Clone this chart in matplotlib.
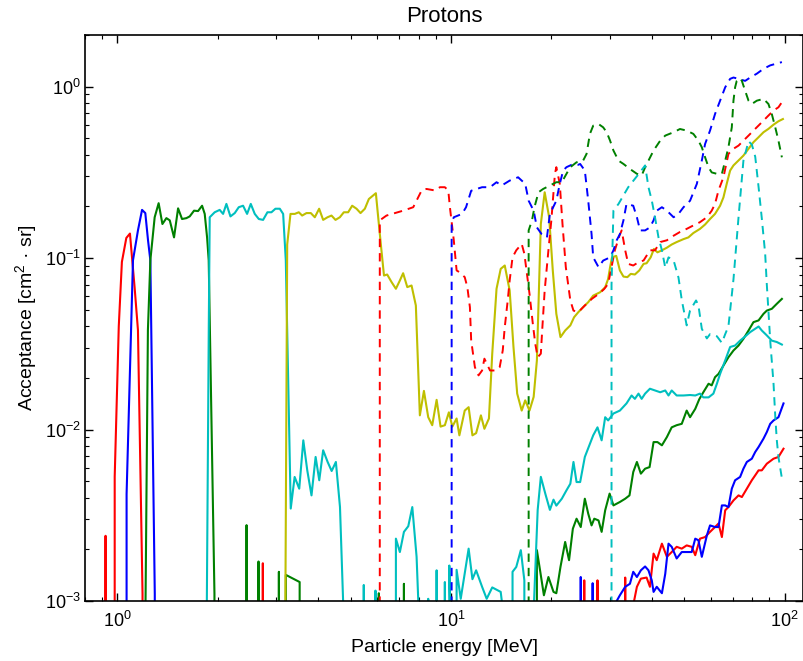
import matplotlib
matplotlib.use("Agg")
import matplotlib.pyplot as plt

plt.rcParams['font.family'] = ['Liberation Sans', 'DejaVu Sans']
plt.rcParams['mathtext.default'] = 'regular'
plt.rcParams['lines.scale_dashes'] = False

# energies [MeV] and acceptances [cm^2 sr]; 0 means nothing detected
e_r = [0.915, 0.922, 0.93, 0.975, 0.982, 1.01, 1.032, 1.064, 1.091, 1.127, 1.153, 1.19, 1.195,
       2.72, 2.73, 2.74, 25.0, 25.1, 25.2, 27.4, 27.5, 27.6, 32.5, 33.3, 34.0, 35.2, 35.4, 36.1,
       37.1, 38.6, 39.5, 40.5, 41.4, 42.9, 44.4, 45.9, 47.5, 49.2, 50.9, 52.7, 54.0, 55.8, 57.8,
       59.8, 61.9, 63.4, 64.9, 66.4, 67.9, 70.3, 72.8, 74.5, 77.1, 79.8, 81.7, 83.6, 85.5, 88.5,
       92.7, 95.9, 99.3]
a_r = [0, 0.0024, 0, 0, 0.0053, 0.04, 0.095, 0.131, 0.139, 0.067, 0.038, 0.0011, 0,
       0, 0.00166, 0, 0, 0.00132, 0, 0, 0.00132, 0, 0, 0.00137, 0, 0, 0.001, 0.00121,
       0.00135, 0.00137, 0.00121, 0.00189, 0.00173, 0.00216, 0.00181, 0.00193, 0.00207, 0.00202,
       0.00211, 0.00207, 0.00185, 0.00231, 0.00236, 0.00253, 0.0027, 0.00283, 0.00236, 0.00338,
       0.00353, 0.00386, 0.00413, 0.00404, 0.00452, 0.00506, 0.00541, 0.00578, 0.00578, 0.00632,
       0.00676, 0.00692, 0.00773]

e_b = [1.055, 1.066, 1.114, 1.153, 1.186, 1.213, 1.236, 1.256, 1.295, 1.30, 24.4, 24.5, 24.6,
       26.5, 26.6, 26.7, 31.3, 31.4, 32.1, 33.3, 34.4, 35.2, 36.1, 37.1, 38.2, 39.1, 40.0, 40.5,
       41.4, 42.9, 43.9, 44.9, 45.9, 47.5, 49.2, 50.9, 52.7, 54.0, 55.2, 56.5, 58.5, 59.8, 61.9,
       63.4, 64.9, 66.4, 67.9, 69.5, 71.1, 73.6, 75.3, 77.1, 79.8, 81.7, 83.6, 86.5, 88.5, 90.6,
       92.7, 95.9, 99.3]
a_b = [0, 0.0042, 0.097, 0.145, 0.191, 0.183, 0.127, 0.097, 0.0011, 0, 0, 0.00138, 0,
       0, 0.00127, 0, 0, 0.001, 0.00108, 0.00121, 0.00126, 0.00148, 0.00138, 0.00151, 0.00159,
       0.00151, 0.00132, 0.00113, 0.00121, 0.00111, 0.00144, 0.00216, 0.00207, 0.00177, 0.00193,
       0.00193, 0.00193, 0.00231, 0.00226, 0.00181, 0.00241, 0.00276, 0.0027, 0.0027, 0.00361,
       0.00361, 0.00353, 0.00452, 0.00506, 0.00529, 0.00591, 0.00647, 0.00676, 0.0074, 0.00791,
       0.00885, 0.00967, 0.0108, 0.0113, 0.0118, 0.0142]

e_g = [1.21, 1.215, 1.235, 1.256, 1.294, 1.33, 1.365, 1.403, 1.436, 1.479, 1.521, 1.563, 1.611,
       1.648, 1.698, 1.746, 1.795, 1.828, 1.858, 1.879, 1.955, 1.96,
       2.43, 2.44, 2.45, 2.64, 2.65, 2.66, 3.04, 3.05, 3.06, 3.19, 3.2, 3.52, 3.53,
       6.07, 6.08, 6.09, 7.22, 7.23, 7.24,
       17.9, 18.1, 18.5, 19.0, 19.6, 20.3, 20.7, 21.3, 22.0, 22.6, 23.2, 23.8, 24.5, 25.2, 25.8,
       26.4, 26.9, 27.7, 28.3, 29.0, 29.9, 30.7, 32.1, 33.3, 34.3, 35.2, 36.1, 37.1, 38.2, 39.4,
       40.5, 41.6, 42.9, 44.4, 45.9, 47.5, 49.2, 50.9, 52.1, 54.0, 55.5, 57.1, 59.2, 60.5, 61.9,
       63.4, 65.6, 67.9, 70.3, 72.8, 75.3, 78.0, 80.7, 83.6, 86.5, 88.5, 91.6, 94.8, 98.2]
a_g = [0, 0.001, 0.038, 0.097, 0.173, 0.209, 0.158, 0.171, 0.166, 0.132, 0.195, 0.169, 0.171,
       0.175, 0.189, 0.188, 0.202, 0.181, 0.132, 0.097, 0.0011, 0,
       0, 0.00277, 0, 0, 0.0017, 0, 0, 0.00148, 0, 0, 0.00142, 0.00129, 0,
       0, 0.00111, 0, 0, 0.00126, 0,
       0, 0.00198, 0.00151, 0.00108, 0.00138, 0.00113, 0.00111, 0.00158, 0.00221, 0.00173,
       0.00264, 0.00302, 0.0027, 0.00395, 0.00323, 0.00276, 0.00302, 0.00295, 0.00253, 0.00338,
       0.00423, 0.00361, 0.00378, 0.00395, 0.00413, 0.00565, 0.00647, 0.00553, 0.00591, 0.00604,
       0.00845, 0.00845, 0.00809, 0.00904, 0.0103, 0.0106, 0.0108, 0.0129, 0.0118, 0.0132, 0.015,
       0.0165, 0.0185, 0.0181, 0.0202, 0.0211, 0.0236, 0.0264, 0.0289, 0.0309, 0.0338, 0.0378,
       0.0423, 0.0433, 0.0473, 0.0494, 0.0506, 0.0541, 0.0578]

e_c = [1.85, 1.855, 1.88, 1.892, 1.958, 2.027, 2.075, 2.123, 2.183, 2.249, 2.312, 2.382, 2.449,
       2.512, 2.582, 2.655, 2.735, 2.818, 2.897, 2.978, 3.069, 3.141, 3.199, 3.31, 3.40, 3.51,
       3.61, 3.71, 3.82, 3.93, 4.03, 4.14, 4.27, 4.39, 4.52, 4.65, 4.76, 4.78,
       5.47, 5.48, 5.49, 5.93, 5.94, 5.95,
       6.80, 6.84, 7.03, 7.23, 7.45, 7.66, 7.89, 8.0, 8.04,
       8.54, 8.55, 8.56, 9.05, 9.06, 9.07, 9.58, 9.59, 9.6, 9.85, 9.89, 9.95, 9.96,
       10.35, 10.4, 10.7, 11.3, 11.6, 11.9, 12.4, 12.8, 13.3, 14.1, 14.3, 14.32,
       15.2, 15.3, 15.7, 16.2, 16.6, 16.9,
       17.7, 17.75, 18.2, 18.6, 19.2, 19.8, 20.3, 20.7, 21.5, 22.2, 22.8, 23.3, 23.8, 24.4, 25.2,
       26.1, 26.7, 27.5, 28.3, 29.0, 29.6, 30.7, 32.1, 33.6, 34.8, 35.6, 36.5, 37.3, 38.2, 39.5,
       40.9, 42.4, 43.9, 44.9, 45.9, 47.5, 49.8, 52.1, 54.0, 55.8, 57.1, 59.2, 61.2, 62.7, 64.1,
       66.4, 68.7, 71.1, 73.6, 76.2, 78.9, 81.7, 83.6, 85.5, 88.5, 91.6, 94.8, 98.2]
a_c = [0, 0.001, 0.04, 0.173, 0.185, 0.191, 0.181, 0.207, 0.175, 0.183, 0.198, 0.202, 0.181,
       0.207, 0.181, 0.169, 0.167, 0.185, 0.185, 0.194, 0.194, 0.181, 0.097, 0.00346, 0.00529,
       0.00452, 0.00865, 0.00578, 0.00413, 0.00692, 0.00506, 0.00757, 0.00647, 0.00573, 0.00647,
       0.00353, 0.0009, 0,
       0, 0.00124, 0, 0, 0.00115, 0,
       0, 0.00231, 0.00193, 0.00253, 0.00273, 0.00353, 0.00181, 0.0009, 0,
       0, 0.00103, 0, 0, 0.00151, 0, 0, 0.00129, 0, 0, 0.00161, 0.0009, 0,
       0, 0.00152, 0.00103, 0.00202, 0.00134, 0.00151, 0.00121, 0.00103, 0.0012, 0.00113, 0.0009, 0,
       0, 0.00148, 0.00158, 0.00198, 0.00132, 0,
       0, 0.001, 0.0034, 0.0053, 0.0042, 0.0034, 0.0039, 0.0036, 0.00395, 0.00442, 0.00483,
       0.00647, 0.00494, 0.00494, 0.00692, 0.00827, 0.00925, 0.0103, 0.00865, 0.0118, 0.0113,
       0.0124, 0.0129, 0.0142, 0.0158, 0.0151, 0.0162, 0.0151, 0.0162, 0.0173, 0.0169, 0.0165,
       0.0169, 0.0158, 0.0169, 0.0158, 0.0158, 0.0159, 0.0158, 0.0162, 0.0154, 0.0154, 0.0162,
       0.0185, 0.0211, 0.0253, 0.0303, 0.0309, 0.033, 0.0349, 0.037, 0.0387, 0.0399, 0.0378,
       0.0354, 0.033, 0.0324, 0.0313]

e_y = [3.18, 3.19, 3.23, 3.304, 3.404, 3.499, 3.581, 3.69, 3.802, 3.908, 4.027, 4.14, 4.266,
       4.385, 4.508, 4.645, 4.775, 4.92, 5.058, 5.212, 5.358, 5.521, 5.675, 5.848, 5.957, 6.053,
       6.19, 6.30, 6.44, 6.64, 6.84, 7.03, 7.19, 7.40, 7.62, 7.85, 8.07, 8.30, 8.55, 8.79, 9.06,
       9.31, 9.59, 9.86, 10.1, 10.4, 10.6, 11.0, 11.3, 11.6, 11.9, 12.3, 12.6, 13.0, 13.3, 13.7,
       14.1, 14.5, 15.0, 15.4, 15.8, 16.3, 16.7, 17.2, 17.7, 18.1, 18.6, 19.1, 19.7, 20.2, 20.7,
       21.3, 22.0, 22.8, 23.4, 24.1, 24.9, 25.8, 26.7, 28.0, 29.0, 29.6, 30.0, 30.4, 31.3, 32.1,
       32.9, 33.8, 34.6, 35.6, 36.7, 37.8, 38.6, 39.7, 40.6, 41.6, 42.9, 44.4, 45.9, 47.5, 49.8,
       51.5, 53.3, 55.8, 57.8, 59.8, 61.9, 64.1, 65.6, 67.1, 68.7, 70.3, 72.8, 75.3, 78.0, 80.7,
       83.6, 86.5, 89.5, 92.7, 95.9, 98.9]
a_y = [0, 0.001, 0.12, 0.181, 0.181, 0.185, 0.177, 0.183, 0.183, 0.173, 0.194, 0.167, 0.173,
       0.177, 0.167, 0.173, 0.185, 0.185, 0.202, 0.194, 0.183, 0.194, 0.221, 0.232, 0.239, 0.173,
       0.111, 0.0791, 0.0802, 0.0724, 0.0662, 0.074, 0.0816, 0.0677, 0.0692, 0.0529, 0.0121,
       0.0168, 0.0118, 0.0106, 0.0149, 0.0104, 0.0106, 0.0126, 0.0104, 0.0116, 0.00925, 0.0129,
       0.0135, 0.00925, 0.00953, 0.0121, 0.0101, 0.0116, 0.0277, 0.0662, 0.0865, 0.0905, 0.0647,
       0.0303, 0.0162, 0.0129, 0.0148, 0.0129, 0.0155, 0.0253, 0.158, 0.242, 0.173, 0.0847,
       0.0473, 0.0346, 0.0378, 0.0405, 0.0452, 0.0484, 0.0517, 0.0553, 0.0604, 0.0632, 0.0676,
       0.0756, 0.0885, 0.101, 0.103, 0.0847, 0.078, 0.0774, 0.0809, 0.0802, 0.0847, 0.0925,
       0.0933, 0.101, 0.113, 0.108, 0.111, 0.115, 0.12, 0.124, 0.129, 0.132, 0.14, 0.148, 0.157,
       0.169, 0.181, 0.202, 0.226, 0.271, 0.324, 0.347, 0.371, 0.396, 0.434, 0.474, 0.507, 0.542,
       0.567, 0.6, 0.628, 0.647]

# dashed curves
e_rd = [6.10, 6.12, 6.41, 7.19, 7.71, 8.17, 8.45, 8.95, 9.27, 9.59, 9.82, 9.93, 10.2, 10.4, 10.6,
        11.0, 11.2, 11.4, 11.5, 11.8, 12.1, 12.4, 12.6, 13.1, 13.6, 14.0, 14.3, 14.5, 14.8, 15.0,
        15.3, 15.7, 16.3, 16.6, 16.9, 17.2, 17.6, 17.9, 18.2, 18.6, 18.8, 19.1, 19.6, 20.0, 20.5,
        20.7, 21.2, 21.6, 22.1, 22.8, 23.3, 24.1, 25.2, 26.5, 27.8, 28.8, 29.6, 30.3, 31.0, 32.0,
        32.5, 33.3, 34.0, 35.2, 36.5, 37.8, 39.5, 40.9, 42.4, 44.4, 46.5, 48.6, 50.9, 53.3, 55.8,
        58.5, 60.5, 61.9, 63.4, 65.6, 67.9, 70.3, 72.8, 75.3, 78.0, 80.7, 83.6, 86.5, 89.5, 92.7,
        95.9, 98.2]
a_rd = [0, 0.166, 0.177, 0.189, 0.198, 0.248, 0.253, 0.248, 0.259, 0.259, 0.248, 0.198, 0.127,
        0.0847, 0.0828, 0.0774, 0.0677, 0.0517, 0.0331, 0.0231, 0.0207, 0.0221, 0.0259, 0.0221,
        0.0221, 0.0231, 0.0289, 0.0395, 0.0566, 0.074, 0.101, 0.111, 0.121, 0.106, 0.0809, 0.0619,
        0.0414, 0.0316, 0.0264, 0.0277, 0.0395, 0.0647, 0.111, 0.166, 0.31, 0.339, 0.271, 0.158,
        0.0885, 0.0566, 0.0494, 0.0484, 0.0529, 0.058, 0.062, 0.066, 0.0708, 0.0885, 0.111, 0.135,
        0.145, 0.111, 0.0925, 0.0905, 0.0946, 0.0968, 0.111, 0.111, 0.124, 0.127, 0.135, 0.142,
        0.148, 0.155, 0.162, 0.173, 0.189, 0.207, 0.248, 0.296, 0.405, 0.434, 0.453, 0.484, 0.518,
        0.554, 0.593, 0.634, 0.678, 0.725, 0.758, 0.811]

e_bd = [10.0, 10.05, 10.2, 10.8, 11.1, 11.5, 12.4, 13.1, 13.7, 14.2, 15.0, 15.9, 16.7, 17.1, 17.7,
        18.1, 18.7, 19.4, 19.8, 20.7, 21.2, 21.7, 22.2, 23.3, 24.1, 24.4, 25.2, 25.8, 26.4, 26.7,
        27.7, 28.6, 30.0, 30.7, 31.4, 32.1, 32.9, 33.6, 35.2, 36.1, 36.9, 38.2, 39.5, 40.5, 41.4,
        42.9, 44.4, 46.5, 48.1, 49.8, 52.1, 54.6, 56.5, 57.8, 59.8, 61.9, 64.1, 66.4, 68.7, 70.3,
        72.8, 76.2, 78.9, 82.6, 86.5, 90.6, 98.2]
a_bd = [0, 0.16, 0.173, 0.181, 0.198, 0.247, 0.259, 0.259, 0.277, 0.265, 0.283, 0.296, 0.271,
        0.216, 0.189, 0.151, 0.138, 0.132, 0.181, 0.216, 0.271, 0.324, 0.339, 0.354, 0.35, 0.354,
        0.324, 0.216, 0.138, 0.101, 0.0885, 0.0967, 0.101, 0.111, 0.127, 0.138, 0.166, 0.207,
        0.202, 0.173, 0.145, 0.145, 0.151, 0.166, 0.189, 0.198, 0.189, 0.173, 0.181, 0.198, 0.216,
        0.271, 0.37, 0.463, 0.554, 0.692, 0.828, 0.991, 1.11, 1.13, 1.11, 1.08, 1.13, 1.19, 1.27,
        1.33, 1.39]

e_gd = [17.05, 17.1, 17.5, 17.8, 18.3, 18.9, 19.8, 20.7, 21.5, 22.2, 22.8, 23.8, 24.9, 25.5, 26.1,
        26.7, 27.7, 28.6, 29.3, 30.0, 30.7, 31.8, 32.9, 34.4, 36.1, 37.3, 38.2, 39.1, 40.5, 42.4,
        43.9, 46.5, 48.6, 50.9, 53.3, 55.2, 56.5, 57.8, 59.2, 60.5, 62.7, 64.9, 66.4, 67.9, 69.5,
        70.3, 71.1, 71.9, 73.6, 74.5, 76.2, 78.0, 79.8, 82.6, 86.5, 89.5, 91.6, 93.8, 95.9, 98.2]
a_gd = [0, 0.145, 0.166, 0.198, 0.242, 0.253, 0.265, 0.277, 0.277, 0.31, 0.339, 0.362, 0.37,
        0.405, 0.53, 0.592, 0.605, 0.579, 0.542, 0.484, 0.424, 0.37, 0.354, 0.331, 0.31, 0.303,
        0.338, 0.37, 0.424, 0.484, 0.518, 0.542, 0.566, 0.554, 0.53, 0.484, 0.443, 0.387, 0.338,
        0.316, 0.31, 0.31, 0.37, 0.443, 0.579, 0.828, 0.99, 1.08, 1.12, 1.08, 0.946, 0.828, 0.792,
        0.828, 0.848, 0.792, 0.692, 0.579, 0.484, 0.387]

e_cd = [29.9, 30.3, 30.7, 31.8, 32.9, 34.0, 35.6, 36.9, 38.2, 39.1, 40.0, 40.9, 41.9, 42.9, 43.9,
        44.9, 46.5, 48.1, 49.2, 50.9, 52.1, 54.3, 55.2, 56.5, 58.5, 59.8, 62.7, 64.9, 66.4, 67.9,
        70.3, 72.8, 75.3, 78.0, 79.8, 81.7, 83.6, 85.5, 87.5, 88.5, 89.5, 90.6, 92.7, 93.8, 94.8,
        95.9, 98.2]
a_cd = [0, 0.07, 0.189, 0.207, 0.232, 0.259, 0.29, 0.317, 0.347, 0.259, 0.217, 0.173, 0.132,
        0.111, 0.088, 0.101, 0.097, 0.077, 0.057, 0.0405, 0.0495, 0.0566, 0.053, 0.0387, 0.034,
        0.036, 0.035, 0.032, 0.036, 0.04, 0.075, 0.173, 0.37, 0.48, 0.46, 0.39, 0.26, 0.17, 0.106,
        0.07, 0.049, 0.033, 0.0185, 0.012, 0.0087, 0.0069, 0.0052]

colors = {'r': (1, 0, 0), 'b': (0, 0, 1), 'g': (0, 0.5, 0), 'c': (0, 0.75, 0.75), 'y': (0.75, 0.75, 0)}
dash = (6, 4.3)

fig = plt.figure(figsize=(8.04, 6.61), dpi=100)
ax = fig.add_axes([85 / 804, 60 / 661, 718.5 / 804, 566 / 661])

ax.plot(e_r, a_r, color=colors['r'], lw=1.5)
ax.plot(e_b, a_b, color=colors['b'], lw=1.5)
ax.plot(e_g, a_g, color=colors['g'], lw=1.5)
ax.plot(e_c, a_c, color=colors['c'], lw=1.5)
ax.plot(e_y, a_y, color=colors['y'], lw=1.5)
ax.plot(e_rd, a_rd, color=colors['r'], lw=1.4, ls='--', dashes=dash)
ax.plot(e_bd, a_bd, color=colors['b'], lw=1.4, ls='--', dashes=dash)
ax.plot(e_gd, a_gd, color=colors['g'], lw=1.4, ls='--', dashes=dash)
ax.plot(e_cd, a_cd, color=colors['c'], lw=1.4, ls='--', dashes=dash)

ax.set_xscale('log')
ax.set_yscale('log')
ax.set_xlim(0.8, 114)
ax.set_ylim(1e-3, 2)

ax.tick_params(which='both', direction='in', top=True, right=True, labelsize=13)
ax.tick_params(which='major', length=6, width=1)
ax.tick_params(which='minor', length=3, width=0.8)
ax.tick_params(axis='y', pad=3)
ax.tick_params(axis='x', pad=7)
for sp in ax.spines.values():
    sp.set_linewidth(1.2)

ax.set_title('Protons', fontsize=16, pad=9)
ax.set_xlabel('Particle energy [MeV]', fontsize=14, labelpad=6)
ax.set_ylabel('Acceptance [cm$^2$ · sr]', fontsize=14)

fig.savefig('out.png', dpi=100)
